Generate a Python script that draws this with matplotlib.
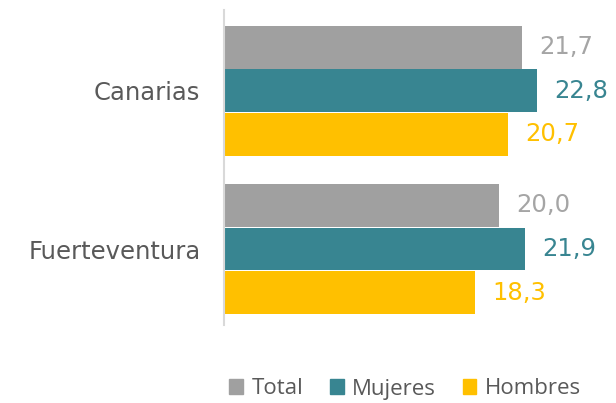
import numpy as np
import matplotlib.pyplot as plt
from matplotlib.patches import Patch

regions = ["Canarias", "Fuerteventura"]
series = ["Total", "Mujeres", "Hombres"]
total = [21.7, 20.0]
mujeres = [22.8, 21.9]
hombres = [20.7, 18.3]

bar_colors = ["#A0A0A0", "#388591", "#FFC000"]
text_colors = ["#A5A5A5", "#388591", "#FFC000"]

fig = plt.figure(figsize=(6.16, 4.03), dpi=100)
ax = fig.add_axes([224 / 616, 1 - 325 / 403, 392 / 616, 315 / 403])

ypos = np.array([1, 0])
h = 0.275
for i, (vals, c, tc) in enumerate(zip([total, mujeres, hombres], bar_colors, text_colors)):
    y = ypos + (1 - i) * h
    bars = ax.barh(y, vals, height=h * 0.98, color=c)
    for b, v in zip(bars, vals):
        ax.annotate(f"{v:.1f}".replace(".", ","), (b.get_width(), b.get_y() + b.get_height() / 2),
                    xytext=(12.5, 0), textcoords="offset points", va="center", ha="left",
                    fontsize=17.5, color=tc)

ax.set_xlim(0, 392 / 13.73)
ax.set_ylim(-0.48, 1.51)
ax.set_yticks(ypos)
ax.set_yticklabels(regions, fontsize=17.5, color="#595959")
ax.tick_params(axis="y", length=0, pad=17)
ax.set_xticks([])
for s in ["top", "right", "bottom"]:
    ax.spines[s].set_visible(False)
ax.spines["left"].set_color("#D9D9D9")
ax.spines["left"].set_linewidth(1.5)

handles = [Patch(color=c) for c in bar_colors]
leg = fig.legend(handles, series, loc="center", bbox_to_anchor=(405 / 616, 1 - 389 / 403),
                 ncol=3, frameon=False, prop={"family": "Open Sans", "size": 16},
                 handlelength=0.62, handleheight=0.62, handletextpad=0.38,
                 columnspacing=1.2, borderpad=0)
for t in leg.get_texts():
    t.set_color("#595959")

fig.savefig("out.png", dpi=100)
